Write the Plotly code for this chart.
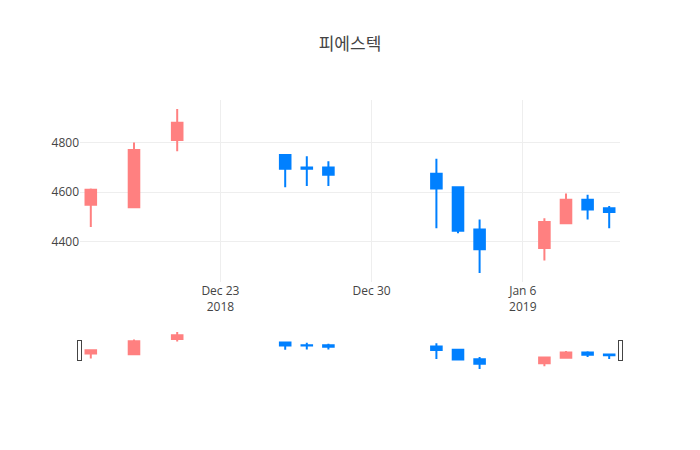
import plotly.graph_objects as go

dates = ["2018-12-17", "2018-12-19", "2018-12-21", "2018-12-26", "2018-12-27", "2018-12-28",
         "2019-01-02", "2019-01-03", "2019-01-04", "2019-01-07", "2019-01-08", "2019-01-09", "2019-01-10"]
open_ = [4550, 4540, 4810, 4750, 4700, 4700, 4675, 4620, 4450, 4375, 4475, 4570, 4535]
high = [4615, 4800, 4935, 4750, 4745, 4725, 4735, 4620, 4490, 4495, 4595, 4590, 4545]
low = [4460, 4540, 4765, 4620, 4625, 4625, 4455, 4435, 4275, 4325, 4475, 4490, 4455]
close = [4610, 4770, 4880, 4695, 4695, 4670, 4615, 4445, 4370, 4480, 4570, 4530, 4520]

title = "피에스텍"

fig = go.Figure(go.Candlestick(
    x=dates, open=open_, high=high, low=low, close=close,
    increasing=dict(line=dict(color="#ff8080"), fillcolor="#ff8080"),
    decreasing=dict(line=dict(color="#0080ff"), fillcolor="#0080ff"),
    showlegend=False,
))
fig.update_layout(
    template="none",
    width=700, height=450,
    title=dict(text=title, x=0.5),
    font=dict(family="Open Sans, Noto Sans CJK KR"),
    xaxis=dict(gridcolor="#eee", showline=False, zeroline=False),
    yaxis=dict(gridcolor="#eee", showline=False, zeroline=False),
)
fig.write_html("out.html", config={"displayModeBar": False},
               post_script="document.body.style.margin='0';")
